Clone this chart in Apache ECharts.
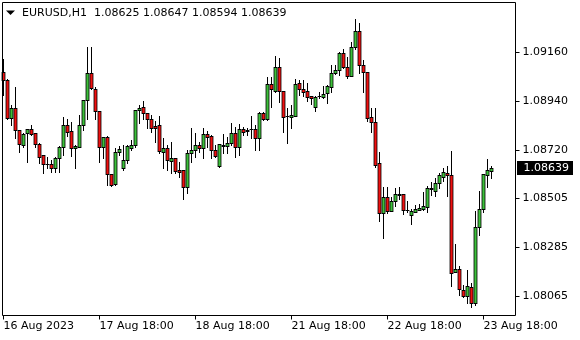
<!DOCTYPE html>
<html>
<head>
<meta charset="utf-8">
<script src="https://cdn.jsdelivr.net/npm/echarts@6/dist/echarts.min.js"></script>
<style>
  html, body { margin: 0; padding: 0; background: #fff; }
  #chart { width: 580px; height: 340px; }
</style>
</head>
<body>
<div id="chart"></div>
<script>
// ---- data (EURUSD, H1) ----
const symbolName = 'EURUSD,H1';
const sessionDays = ['16 Aug', '17 Aug', '18 Aug', '21 Aug', '22 Aug', '23 Aug', '24 Aug'];
const sessionFirstHour = [18, 0, 0, 0, 0, 0, 0];
const sessionLastHour = [23, 23, 23, 23, 23, 23, 1];

const opens = [
  1.09070, 1.09033, 1.08864, 1.08907, 1.08809, 1.08742, 1.08794, 1.08813, 1.08794, 1.08745,
  1.08697, 1.08655, 1.08657, 1.08638, 1.08683, 1.08732, 1.08834, 1.08804, 1.08727, 1.08734,
  1.08834, 1.08944, 1.09064, 1.08992, 1.08894, 1.08734, 1.08777, 1.08611, 1.08566, 1.08711,
  1.08640, 1.08675, 1.08730, 1.08742, 1.08897, 1.08911, 1.08884, 1.08861, 1.08827, 1.08831,
  1.08711, 1.08727, 1.08672, 1.08683, 1.08630, 1.08630, 1.08553, 1.08705, 1.08719, 1.08742,
  1.08727, 1.08791, 1.08782, 1.08722, 1.08649, 1.08738, 1.08739, 1.08750, 1.08794, 1.08732,
  1.08812, 1.08809, 1.08813, 1.08813, 1.08772, 1.08884, 1.08861, 1.09015, 1.08985, 1.09090,
  1.08984, 1.08872, 1.08868, 1.08872, 1.09018, 1.08994, 1.08984, 1.08961, 1.08911, 1.08961,
  1.08958, 1.08976, 1.09003, 1.09064, 1.09078, 1.09153, 1.09090, 1.09053, 1.09180, 1.09254,
  1.09100, 1.09068, 1.08866, 1.08846, 1.08660, 1.08436, 1.08508, 1.08447, 1.08491, 1.08518,
  1.08522, 1.08453, 1.08428, 1.08443, 1.08453, 1.08455, 1.08465, 1.08543, 1.08537, 1.08573,
  1.08600, 1.08615, 1.08610, 1.08174, 1.08186, 1.08092, 1.08066, 1.08104, 1.08035, 1.08373,
  1.08455, 1.08610, 1.08625
];
const highs = [
  1.09126, 1.09037, 1.08921, 1.09003, 1.08809, 1.08794, 1.08813, 1.08834, 1.08794, 1.08752,
  1.08697, 1.08689, 1.08675, 1.08689, 1.08738, 1.08866, 1.08857, 1.08846, 1.08742, 1.08876,
  1.08944, 1.09182, 1.09182, 1.09001, 1.08894, 1.08777, 1.08782, 1.08611, 1.08727, 1.08739,
  1.08742, 1.08742, 1.08764, 1.08899, 1.08921, 1.08939, 1.08887, 1.08876, 1.08851, 1.08872,
  1.08772, 1.08742, 1.08757, 1.08683, 1.08667, 1.08630, 1.08719, 1.08817, 1.08794, 1.08757,
  1.08817, 1.08806, 1.08787, 1.08742, 1.08745, 1.08791, 1.08779, 1.08839, 1.08824, 1.08836,
  1.08824, 1.08817, 1.08872, 1.08831, 1.08891, 1.08891, 1.09048, 1.09048, 1.09141, 1.09130,
  1.08984, 1.08907, 1.08921, 1.09037, 1.09033, 1.09033, 1.09021, 1.08961, 1.08961, 1.08981,
  1.09006, 1.09011, 1.09100, 1.09100, 1.09160, 1.09171, 1.09137, 1.09205, 1.09307, 1.09287,
  1.09123, 1.09068, 1.08907, 1.08907, 1.08709, 1.08553, 1.08553, 1.08508, 1.08548, 1.08553,
  1.08522, 1.08491, 1.08455, 1.08473, 1.08477, 1.08530, 1.08559, 1.08575, 1.08593, 1.08615,
  1.08638, 1.08649, 1.08715, 1.08298, 1.08200, 1.08114, 1.08181, 1.08125, 1.08447, 1.08536,
  1.08612, 1.08679, 1.08647
];
const lows = [
  1.08966, 1.08857, 1.08831, 1.08772, 1.08711, 1.08734, 1.08667, 1.08787, 1.08732, 1.08660,
  1.08615, 1.08638, 1.08622, 1.08622, 1.08622, 1.08697, 1.08782, 1.08692, 1.08638, 1.08732,
  1.08809, 1.08857, 1.08992, 1.08857, 1.08667, 1.08683, 1.08563, 1.08558, 1.08563, 1.08697,
  1.08630, 1.08660, 1.08722, 1.08734, 1.08839, 1.08857, 1.08817, 1.08801, 1.08756, 1.08707,
  1.08640, 1.08630, 1.08615, 1.08618, 1.08600, 1.08498, 1.08528, 1.08667, 1.08689, 1.08711,
  1.08683, 1.08732, 1.08683, 1.08689, 1.08645, 1.08705, 1.08705, 1.08742, 1.08689, 1.08697,
  1.08787, 1.08787, 1.08772, 1.08722, 1.08722, 1.08854, 1.08854, 1.08913, 1.08981, 1.08936,
  1.08801, 1.08750, 1.08817, 1.08872, 1.08966, 1.08961, 1.08941, 1.08926, 1.08896, 1.08951,
  1.08951, 1.08931, 1.08979, 1.09059, 1.09056, 1.09086, 1.09044, 1.09053, 1.09172, 1.09066,
  1.08981, 1.08851, 1.08801, 1.08645, 1.08402, 1.08324, 1.08438, 1.08447, 1.08470, 1.08498,
  1.08432, 1.08443, 1.08387, 1.08440, 1.08453, 1.08450, 1.08440, 1.08518, 1.08515, 1.08548,
  1.08582, 1.08515, 1.08110, 1.08174, 1.08069, 1.08062, 1.08032, 1.08014, 1.08025, 1.08338,
  1.08440, 1.08555, 1.08594
];
const closes = [
  1.09033, 1.08864, 1.08907, 1.08809, 1.08745, 1.08790, 1.08813, 1.08791, 1.08745, 1.08689,
  1.08655, 1.08656, 1.08638, 1.08683, 1.08732, 1.08834, 1.08801, 1.08727, 1.08739, 1.08834,
  1.08944, 1.09064, 1.08996, 1.08894, 1.08732, 1.08777, 1.08611, 1.08563, 1.08711, 1.08724,
  1.08675, 1.08738, 1.08742, 1.08899, 1.08908, 1.08884, 1.08857, 1.08819, 1.08819, 1.08716,
  1.08727, 1.08675, 1.08683, 1.08627, 1.08622, 1.08553, 1.08705, 1.08719, 1.08742, 1.08727,
  1.08791, 1.08779, 1.08719, 1.08694, 1.08745, 1.08742, 1.08750, 1.08794, 1.08732, 1.08812,
  1.08801, 1.08804, 1.08813, 1.08772, 1.08884, 1.08861, 1.09015, 1.08992, 1.09093, 1.08984,
  1.08868, 1.08872, 1.08876, 1.09015, 1.08992, 1.08981, 1.08958, 1.08951, 1.08956, 1.08961,
  1.08973, 1.09006, 1.09064, 1.09078, 1.09153, 1.09090, 1.09053, 1.09180, 1.09254, 1.09100,
  1.09068, 1.08864, 1.08846, 1.08652, 1.08436, 1.08508, 1.08447, 1.08491, 1.08522, 1.08522,
  1.08453, 1.08453, 1.08446, 1.08455, 1.08458, 1.08468, 1.08548, 1.08548, 1.08573, 1.08607,
  1.08619, 1.08610, 1.08169, 1.08186, 1.08095, 1.08066, 1.08110, 1.08035, 1.08373, 1.08455,
  1.08612, 1.08630, 1.08639
];

const yTicks = [1.09160, 1.08940, 1.08720, 1.08505, 1.08285, 1.08065];
const xTickIndex = [0, 24, 48, 72, 96, 120];
const xTickLabels = ['16 Aug 2023', '17 Aug 18:00', '18 Aug 18:00', '21 Aug 18:00', '22 Aug 18:00', '23 Aug 18:00'];
const yMin = 1.07978;
const yMax = 1.09381;

// ---- build ----
const categories = [];
sessionDays.forEach((d, k) => {
  for (let h = sessionFirstHour[k]; h <= sessionLastHour[k]; h++) {
    categories.push(d + ' ' + String(h).padStart(2, '0') + ':00');
  }
});
const candleData = opens.map((o, i) => [i, o, closes[i], lows[i], highs[i]]);
const n = opens.length;
const lastO = opens[n - 1], lastH = highs[n - 1], lastL = lows[n - 1], lastC = closes[n - 1];

const UP_COLOR = '#3cc03a';
const DOWN_COLOR = '#f01010';
const FONT = '"DejaVu Sans", Verdana, sans-serif';
const chart = echarts.init(document.getElementById('chart'), null, { renderer: 'canvas' });
const showTick = (i) => xTickIndex.indexOf(i) >= 0;
const gridLeft = 1.5, gridWidth = 4 * categories.length;

// candles: black wick, black body frame, coloured body core
function renderCandle(params, api) {
  const i = api.value(0);
  const o = api.value(1), c = api.value(2), l = api.value(3), h = api.value(4);
  const pO = api.coord([i, o]), pC = api.coord([i, c]);
  const pL = api.coord([i, l]), pH = api.coord([i, h]);
  const col = Math.floor(pO[0]);
  const yTop = Math.round(Math.min(pO[1], pC[1]));
  const yBot = Math.round(Math.max(pO[1], pC[1]));
  const yHi = Math.round(pH[1]), yLo = Math.round(pL[1]);
  const children = [
    { type: 'rect', z2: 1, shape: { x: col, y: yHi, width: 1, height: yLo - yHi + 1 }, style: { fill: '#000000' } },
    { type: 'rect', z2: 2, shape: { x: col - 1.4, y: yTop, width: 3.8, height: yBot - yTop + 1 }, style: { fill: '#000000' } }
  ];
  if (yBot - yTop >= 2) {
    children.push({ type: 'rect', z2: 3, shape: { x: col - 0.6, y: yTop + 1, width: 2.2, height: yBot - yTop - 1 }, style: { fill: c >= o ? UP_COLOR : DOWN_COLOR } });
  }
  return { type: 'group', children };
}

const baseGraphics = [
  { id: 'frame', type: 'rect', shape: { x: 2.5, y: 2.5, width: 513, height: 313 }, style: { fill: null, stroke: '#000', lineWidth: 1 }, z: 100, silent: true },
  { id: 'tri', type: 'polygon', shape: { points: [[6, 10.5], [15, 10.5], [10.5, 15]] }, style: { fill: '#000' }, z: 100, silent: true },
  { id: 'sym', type: 'text', x: 22, y: 13, style: { text: symbolName, font: '11px ' + FONT, fill: '#000', verticalAlign: 'middle' }, z: 100, silent: true },
  { id: 'ohlc', type: 'text', x: 94, y: 13, style: { text: [lastO, lastH, lastL, lastC].map(v => v.toFixed(5)).join(' '), font: '11px ' + FONT, fill: '#000', verticalAlign: 'middle' }, z: 100, silent: true }
];

chart.setOption({
  animation: false,
  backgroundColor: '#ffffff',
  grid: { left: gridLeft, top: 2.5, width: gridWidth, height: 313, show: false, containLabel: false },
  xAxis: {
    type: 'category',
    data: categories,
    boundaryGap: true,
    axisLine: { show: false },
    axisTick: { show: true, alignWithLabel: true, interval: showTick, length: 4, lineStyle: { color: '#000', width: 1 } },
    axisLabel: {
      show: true, interval: showTick, align: 'left', margin: 5,
      color: '#000', fontFamily: FONT, fontSize: 11,
      formatter: (v, i) => { const k = xTickIndex.indexOf(i); return k >= 0 ? xTickLabels[k] : ''; }
    },
    splitLine: { show: false }
  },
  yAxis: {
    type: 'value',
    position: 'right',
    offset: 515.5 - (gridLeft + gridWidth),
    min: yMin, max: yMax, scale: true,
    axisLine: { show: false },
    axisTick: { show: true, length: 4, customValues: yTicks, lineStyle: { color: '#000', width: 1 } },
    axisLabel: {
      show: true, customValues: yTicks, margin: 7,
      color: '#000', fontFamily: FONT, fontSize: 11,
      formatter: (v) => v.toFixed(5)
    },
    splitLine: { show: false }
  },
  series: [{
    type: 'custom',
    name: symbolName,
    data: candleData,
    encode: { x: 0, y: [1, 2, 3, 4] },
    renderItem: renderCandle,
    clip: false,
    silent: true
  }],
  graphic: baseGraphics
});

// current price label, positioned through the y axis scale
const py = Math.round(chart.convertToPixel({ yAxisIndex: 0 }, lastC));
chart.setOption({
  graphic: baseGraphics.concat([
    { id: 'pbox', type: 'rect', shape: { x: 517, y: py - 7, width: 56, height: 14 }, style: { fill: '#000' }, z: 100, silent: true },
    { id: 'ptxt', type: 'text', x: 523.5, y: py, style: { text: lastC.toFixed(5), font: '11px ' + FONT, fill: '#fff', verticalAlign: 'middle' }, z: 101, silent: true }
  ])
});
</script>
</body>
</html>
